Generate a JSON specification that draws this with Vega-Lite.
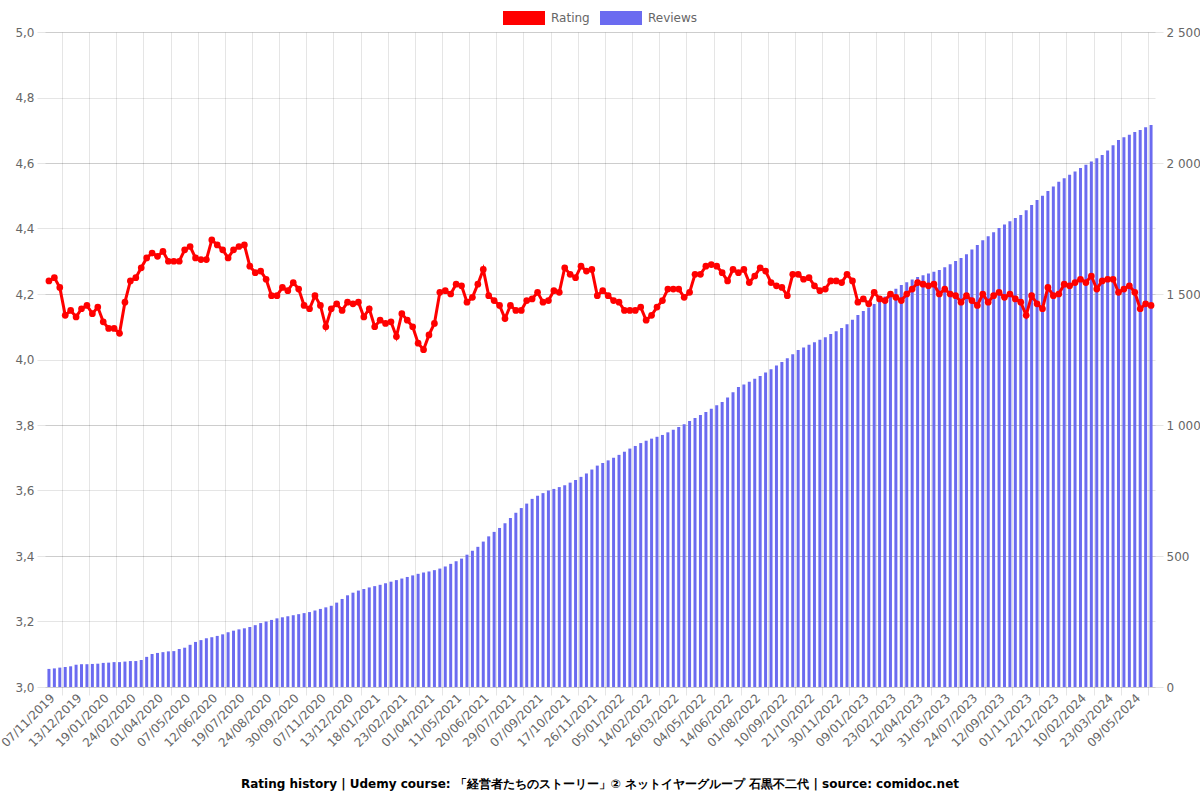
{
  "$schema": "https://vega.github.io/schema/vega-lite/v6.json",
  "width": 1110,
  "height": 655,
  "autosize": {"type": "none"},
  "padding": {"left": 45, "top": 32, "right": 45, "bottom": 113},
  "background": "white",
  "config": {
    "font": "DejaVu Sans",
    "view": {"stroke": null},
    "axis": {"labelFont": "DejaVu Sans", "labelFontSize": 12, "labelColor": "#666666"},
    "legend": {"labelFont": "DejaVu Sans"}
  },
  "title": {
    "text": "Rating history | Udemy course: 「経営者たちのストーリー」② ネットイヤーグループ 石黒不二代 | source: comidoc.net",
    "orient": "bottom",
    "font": "DejaVu Sans",
    "fontSize": 12,
    "fontWeight": "bold",
    "color": "#000000",
    "offset": 30
  },
  "data": {"values": [
    {"d":"07/11/2019","r":4.24,"n":69},{"d":"14/11/2019","r":4.25,"n":71},{"d":"21/11/2019","r":4.22,"n":74},{"d":"28/11/2019","r":4.135,"n":76},{"d":"05/12/2019","r":4.15,"n":79},
    {"d":"13/12/2019","r":4.13,"n":85},{"d":"20/12/2019","r":4.155,"n":87},{"d":"27/12/2019","r":4.165,"n":87},{"d":"03/01/2020","r":4.14,"n":88},{"d":"11/01/2020","r":4.16,"n":89},
    {"d":"19/01/2020","r":4.115,"n":92},{"d":"26/01/2020","r":4.095,"n":93},{"d":"02/02/2020","r":4.095,"n":95},{"d":"09/02/2020","r":4.08,"n":95},{"d":"16/02/2020","r":4.175,"n":97},
    {"d":"24/02/2020","r":4.24,"n":99},{"d":"02/03/2020","r":4.25,"n":99},{"d":"09/03/2020","r":4.28,"n":103},{"d":"16/03/2020","r":4.31,"n":115},{"d":"24/03/2020","r":4.325,"n":126},
    {"d":"01/04/2020","r":4.315,"n":130},{"d":"08/04/2020","r":4.33,"n":133},{"d":"15/04/2020","r":4.3,"n":136},{"d":"22/04/2020","r":4.3,"n":137},{"d":"29/04/2020","r":4.3,"n":145},
    {"d":"07/05/2020","r":4.335,"n":150},{"d":"14/05/2020","r":4.345,"n":161},{"d":"21/05/2020","r":4.31,"n":172},{"d":"28/05/2020","r":4.305,"n":179},{"d":"04/06/2020","r":4.305,"n":186},
    {"d":"12/06/2020","r":4.365,"n":190},{"d":"19/06/2020","r":4.35,"n":195},{"d":"26/06/2020","r":4.335,"n":201},{"d":"03/07/2020","r":4.31,"n":209},{"d":"11/07/2020","r":4.335,"n":215},
    {"d":"19/07/2020","r":4.345,"n":220},{"d":"26/07/2020","r":4.35,"n":224},{"d":"02/08/2020","r":4.285,"n":229},{"d":"09/08/2020","r":4.265,"n":236},{"d":"16/08/2020","r":4.27,"n":244},
    {"d":"24/08/2020","r":4.245,"n":250},{"d":"31/08/2020","r":4.195,"n":256},{"d":"07/09/2020","r":4.195,"n":262},{"d":"14/09/2020","r":4.22,"n":266},{"d":"22/09/2020","r":4.21,"n":270},
    {"d":"30/09/2020","r":4.235,"n":274},{"d":"07/10/2020","r":4.215,"n":278},{"d":"15/10/2020","r":4.165,"n":282},{"d":"22/10/2020","r":4.155,"n":286},{"d":"30/10/2020","r":4.195,"n":292},
    {"d":"07/11/2020","r":4.165,"n":298},{"d":"14/11/2020","r":4.1,"n":304},{"d":"21/11/2020","r":4.155,"n":310},{"d":"28/11/2020","r":4.17,"n":322},{"d":"05/12/2020","r":4.15,"n":336},
    {"d":"13/12/2020","r":4.175,"n":350},{"d":"20/12/2020","r":4.17,"n":360},{"d":"27/12/2020","r":4.175,"n":368},{"d":"03/01/2021","r":4.13,"n":374},{"d":"10/01/2021","r":4.155,"n":380},
    {"d":"18/01/2021","r":4.1,"n":385},{"d":"25/01/2021","r":4.12,"n":390},{"d":"01/02/2021","r":4.11,"n":396},{"d":"08/02/2021","r":4.115,"n":402},{"d":"15/02/2021","r":4.07,"n":408},
    {"d":"23/02/2021","r":4.14,"n":414},{"d":"02/03/2021","r":4.12,"n":420},{"d":"09/03/2021","r":4.1,"n":426},{"d":"16/03/2021","r":4.05,"n":432},{"d":"24/03/2021","r":4.03,"n":437},
    {"d":"01/04/2021","r":4.075,"n":441},{"d":"09/04/2021","r":4.11,"n":446},{"d":"17/04/2021","r":4.205,"n":452},{"d":"25/04/2021","r":4.21,"n":460},{"d":"03/05/2021","r":4.2,"n":470},
    {"d":"11/05/2021","r":4.23,"n":480},{"d":"19/05/2021","r":4.225,"n":490},{"d":"27/05/2021","r":4.175,"n":505},{"d":"04/06/2021","r":4.19,"n":520},{"d":"12/06/2021","r":4.23,"n":535},
    {"d":"20/06/2021","r":4.275,"n":555},{"d":"28/06/2021","r":4.195,"n":575},{"d":"06/07/2021","r":4.18,"n":592},{"d":"14/07/2021","r":4.165,"n":607},{"d":"21/07/2021","r":4.125,"n":625},
    {"d":"29/07/2021","r":4.165,"n":645},{"d":"06/08/2021","r":4.15,"n":665},{"d":"14/08/2021","r":4.15,"n":683},{"d":"22/08/2021","r":4.18,"n":700},{"d":"30/08/2021","r":4.185,"n":718},
    {"d":"07/09/2021","r":4.205,"n":730},{"d":"15/09/2021","r":4.175,"n":740},{"d":"23/09/2021","r":4.18,"n":750},{"d":"01/10/2021","r":4.21,"n":756},{"d":"09/10/2021","r":4.205,"n":763},
    {"d":"17/10/2021","r":4.28,"n":770},{"d":"25/10/2021","r":4.26,"n":780},{"d":"02/11/2021","r":4.25,"n":790},{"d":"10/11/2021","r":4.285,"n":802},{"d":"18/11/2021","r":4.27,"n":815},
    {"d":"26/11/2021","r":4.275,"n":830},{"d":"04/12/2021","r":4.195,"n":845},{"d":"12/12/2021","r":4.21,"n":855},{"d":"20/12/2021","r":4.195,"n":865},{"d":"28/12/2021","r":4.18,"n":875},
    {"d":"05/01/2022","r":4.175,"n":886},{"d":"13/01/2022","r":4.15,"n":898},{"d":"21/01/2022","r":4.15,"n":910},{"d":"29/01/2022","r":4.15,"n":920},{"d":"06/02/2022","r":4.16,"n":931},
    {"d":"14/02/2022","r":4.12,"n":940},{"d":"22/02/2022","r":4.135,"n":948},{"d":"02/03/2022","r":4.16,"n":955},{"d":"10/03/2022","r":4.18,"n":962},{"d":"18/03/2022","r":4.215,"n":972},
    {"d":"26/03/2022","r":4.215,"n":982},{"d":"03/04/2022","r":4.215,"n":992},{"d":"11/04/2022","r":4.19,"n":1003},{"d":"19/04/2022","r":4.205,"n":1015},{"d":"27/04/2022","r":4.26,"n":1027},
    {"d":"04/05/2022","r":4.26,"n":1038},{"d":"12/05/2022","r":4.285,"n":1050},{"d":"20/05/2022","r":4.29,"n":1062},{"d":"29/05/2022","r":4.285,"n":1075},{"d":"06/06/2022","r":4.265,"n":1088},
    {"d":"14/06/2022","r":4.24,"n":1105},{"d":"24/06/2022","r":4.275,"n":1125},{"d":"03/07/2022","r":4.265,"n":1145},{"d":"13/07/2022","r":4.275,"n":1155},{"d":"22/07/2022","r":4.235,"n":1165},
    {"d":"01/08/2022","r":4.255,"n":1177},{"d":"09/08/2022","r":4.28,"n":1187},{"d":"17/08/2022","r":4.27,"n":1200},{"d":"25/08/2022","r":4.235,"n":1213},{"d":"02/09/2022","r":4.225,"n":1227},
    {"d":"10/09/2022","r":4.22,"n":1240},{"d":"18/09/2022","r":4.195,"n":1255},{"d":"26/09/2022","r":4.26,"n":1270},{"d":"05/10/2022","r":4.26,"n":1286},{"d":"13/10/2022","r":4.245,"n":1296},
    {"d":"21/10/2022","r":4.25,"n":1306},{"d":"29/10/2022","r":4.225,"n":1316},{"d":"06/11/2022","r":4.21,"n":1325},{"d":"14/11/2022","r":4.215,"n":1335},{"d":"22/11/2022","r":4.24,"n":1347},
    {"d":"30/11/2022","r":4.24,"n":1358},{"d":"08/12/2022","r":4.235,"n":1370},{"d":"16/12/2022","r":4.26,"n":1385},{"d":"24/12/2022","r":4.24,"n":1402},{"d":"01/01/2023","r":4.175,"n":1420},
    {"d":"09/01/2023","r":4.185,"n":1435},{"d":"18/01/2023","r":4.17,"n":1448},{"d":"27/01/2023","r":4.205,"n":1462},{"d":"05/02/2023","r":4.185,"n":1477},{"d":"14/02/2023","r":4.18,"n":1490},
    {"d":"23/02/2023","r":4.2,"n":1505},{"d":"05/03/2023","r":4.19,"n":1520},{"d":"14/03/2023","r":4.18,"n":1534},{"d":"24/03/2023","r":4.2,"n":1545},{"d":"02/04/2023","r":4.215,"n":1555},
    {"d":"12/04/2023","r":4.235,"n":1565},{"d":"22/04/2023","r":4.23,"n":1572},{"d":"02/05/2023","r":4.225,"n":1578},{"d":"12/05/2023","r":4.23,"n":1585},{"d":"21/05/2023","r":4.2,"n":1592},
    {"d":"31/05/2023","r":4.215,"n":1602},{"d":"11/06/2023","r":4.2,"n":1614},{"d":"21/06/2023","r":4.195,"n":1626},{"d":"02/07/2023","r":4.175,"n":1637},{"d":"13/07/2023","r":4.195,"n":1652},
    {"d":"24/07/2023","r":4.18,"n":1670},{"d":"03/08/2023","r":4.165,"n":1687},{"d":"13/08/2023","r":4.2,"n":1705},{"d":"23/08/2023","r":4.175,"n":1720},{"d":"02/09/2023","r":4.195,"n":1736},
    {"d":"12/09/2023","r":4.205,"n":1752},{"d":"22/09/2023","r":4.19,"n":1765},{"d":"02/10/2023","r":4.2,"n":1778},{"d":"12/10/2023","r":4.185,"n":1790},{"d":"22/10/2023","r":4.175,"n":1802},
    {"d":"01/11/2023","r":4.135,"n":1820},{"d":"11/11/2023","r":4.195,"n":1840},{"d":"21/11/2023","r":4.17,"n":1859},{"d":"01/12/2023","r":4.155,"n":1875},{"d":"12/12/2023","r":4.22,"n":1893},
    {"d":"22/12/2023","r":4.195,"n":1910},{"d":"01/01/2024","r":4.2,"n":1928},{"d":"11/01/2024","r":4.23,"n":1942},{"d":"21/01/2024","r":4.225,"n":1955},{"d":"31/01/2024","r":4.235,"n":1968},
    {"d":"10/02/2024","r":4.245,"n":1981},{"d":"18/02/2024","r":4.235,"n":1993},{"d":"26/02/2024","r":4.255,"n":2006},{"d":"06/03/2024","r":4.215,"n":2018},{"d":"14/03/2024","r":4.24,"n":2031},
    {"d":"23/03/2024","r":4.245,"n":2048},{"d":"01/04/2024","r":4.245,"n":2068},{"d":"10/04/2024","r":4.205,"n":2088},{"d":"20/04/2024","r":4.215,"n":2098},{"d":"29/04/2024","r":4.225,"n":2108},
    {"d":"09/05/2024","r":4.205,"n":2118},{"d":"18/05/2024","r":4.155,"n":2126},{"d":"27/05/2024","r":4.17,"n":2136},{"d":"05/06/2024","r":4.165,"n":2145}
  ]},
  "layer": [
    {
      "mark": {"type": "bar", "color": "#6b6bf0"},
      "encoding": {
        "x": {
          "field": "d", "type": "ordinal", "sort": null,
          "scale": {"paddingInner": 0.45, "paddingOuter": 0.45},
          "axis": {
            "orient": "bottom", "title": null, "ticks": false, "grid": false, "domain": false,
            "labelAngle": -45, "labelPadding": 5, "labelFontSize": 12, "labelColor": "#666666",
            "values": ["07/11/2019","13/12/2019","19/01/2020","24/02/2020","01/04/2020","07/05/2020","12/06/2020","19/07/2020","24/08/2020","30/09/2020","07/11/2020","13/12/2020","18/01/2021","23/02/2021","01/04/2021","11/05/2021","20/06/2021","29/07/2021","07/09/2021","17/10/2021","26/11/2021","05/01/2022","14/02/2022","26/03/2022","04/05/2022","14/06/2022","01/08/2022","10/09/2022","21/10/2022","30/11/2022","09/01/2023","23/02/2023","12/04/2023","31/05/2023","24/07/2023","12/09/2023","01/11/2023","22/12/2023","10/02/2024","23/03/2024","09/05/2024"]
          }
        },
        "y": {
          "field": "n", "type": "quantitative",
          "scale": {"domain": [0, 2500], "nice": false},
          "axis": {
            "orient": "right", "title": null, "values": [0, 500, 1000, 1500, 2000, 2500],
            "labelExpr": "replace(format(datum.value, ','), ',', ' ')",
            "domain": false, "ticks": true, "tickSize": 8, "tickColor": "#000000", "tickOpacity": 0.1,
            "grid": true, "gridColor": "#000000", "gridOpacity": 0.1,
            "labelPadding": 3, "labelFontSize": 12, "labelColor": "#666666"
          }
        },
        "color": {
          "datum": "Reviews",
          "scale": {"domain": ["Rating", "Reviews"], "range": ["#ff0000", "#6b6bf0"]},
          "legend": {
            "orient": "none", "legendX": 458, "legendY": -35, "direction": "horizontal",
            "title": null, "symbolType": "M-1,-0.33H1V0.33H-1Z", "symbolSize": 1764,
            "symbolStrokeWidth": 0, "symbolOpacity": 1,
            "labelFontSize": 12, "labelColor": "#666666", "labelOffset": 6, "columnPadding": 10
          }
        }
      }
    },
    {
      "mark": {"type": "line", "color": "#ff0000", "strokeWidth": 3,
               "point": {"filled": true, "color": "#ff0000", "size": 45}},
      "encoding": {
        "x": {
          "field": "d", "type": "ordinal", "sort": null,
          "axis": {
            "orient": "bottom", "title": null, "labels": false, "domain": false,
            "ticks": true, "tickSize": 8, "tickColor": "#000000", "tickOpacity": 0.1,
            "grid": true, "gridColor": "#000000", "gridOpacity": 0.1, "bandPosition": -0.41,
            "values": ["28/11/2019","03/01/2020","09/02/2020","16/03/2020","22/04/2020","28/05/2020","03/07/2020","09/08/2020","14/09/2020","22/10/2020","28/11/2020","03/01/2021","08/02/2021","16/03/2021","25/04/2021","04/06/2021","14/07/2021","22/08/2021","01/10/2021","10/11/2021","20/12/2021","29/01/2022","10/03/2022","19/04/2022","29/05/2022","13/07/2022","25/08/2022","05/10/2022","14/11/2022","24/12/2022","05/02/2023","24/03/2023","12/05/2023","02/07/2023","23/08/2023","12/10/2023","01/12/2023","21/01/2024","06/03/2024","20/04/2024","05/06/2024"]
          }
        },
        "y": {
          "field": "r", "type": "quantitative",
          "scale": {"domain": [3, 5], "nice": false, "zero": false},
          "axis": {
            "orient": "left", "title": null, "values": [3, 3.2, 3.4, 3.6, 3.8, 4, 4.2, 4.4, 4.6, 4.8, 5],
            "labelExpr": "replace(format(datum.value, '.1f'), '.', ',')",
            "domain": false, "ticks": true, "tickSize": 8, "tickColor": "#000000", "tickOpacity": 0.1,
            "grid": true, "gridColor": "#000000", "gridOpacity": 0.1,
            "labelPadding": 3, "labelFontSize": 12, "labelColor": "#666666"
          }
        }
      }
    }
  ],
  "resolve": {"scale": {"y": "independent"}, "axis": {"x": "independent"}}
}
